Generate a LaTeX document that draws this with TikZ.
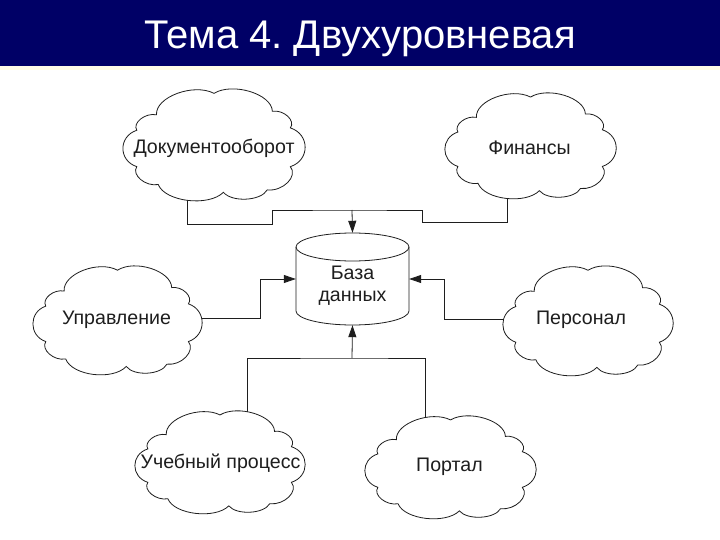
\documentclass[tikz,border=0pt]{standalone}
\usepackage{fontspec}
\setmainfont{Liberation Sans}
\usetikzlibrary{arrows.meta,calc}
\pgfdeclarelayer{bg}
\pgfsetlayers{bg,main}
\definecolor{navy}{RGB}{0,0,102}
\definecolor{cream}{RGB}{255,252,232}
\definecolor{ink}{RGB}{30,30,30}
\tikzset{
  cloudline/.style={draw=ink, fill=white, line width=0.8pt},
  shapeline/.style={draw=ink, fill=white, line width=0.8pt},
  conn/.style={draw=ink, line width=0.8pt},
  arr/.style={-{Triangle[length=12pt,width=8pt]}},
  lbl/.style={font=\fontsize{19.6}{22}\selectfont, text=ink, inner sep=0pt},
  bmp/.style={bend right=65},
}
\newcommand\drawcloud[4]{%
  \begin{scope}[shift={(#1,#2)},xscale=#3,yscale=-#4]
    \path[cloudline] (0,0.85) to[bmp] (0.68,0.55) to[bmp] (0.89,0.27)
      to[bmp] (0.89,-0.38) to[bmp] (0.62,-0.77) to[bmp] (0.11,-0.81)
      to[bmp] (-0.65,-0.68) to[bmp] (-0.90,-0.38) to[bmp] (-0.90,0.23)
      to[bmp] (-0.67,0.49) to[bmp] (0,0.85) -- cycle;
  \end{scope}}
\begin{document}
\frenchspacing
\begin{tikzpicture}[x=1pt,y=-1pt]
\useasboundingbox (0,0) rectangle (720,540);
\begin{pgfonlayer}{bg}
\fill[white] (0,0) rectangle (720,540);
\end{pgfonlayer}
\fill[navy] (0,0) rectangle (720,66);
\fill[cream] (0,66) rectangle (720,70);
\node[anchor=base, text=white, font=\fontsize{40}{46}\selectfont, inner sep=0pt] (title) at (360,49) {Тема 4. Двухуровневая};

% clouds
\drawcloud{214}{144}{85.8}{59.6}
\drawcloud{530.5}{145}{80.7}{56.4}
\drawcloud{117.5}{319.5}{79.7}{58}
\drawcloud{588}{320}{80.2}{58.5}
\drawcloud{220}{461.5}{80.2}{54.8}
\drawcloud{450.5}{466.5}{80.7}{54.8}

\node[lbl] (doc) at (214,148) {Документооборот};
\node[lbl] (fin) at (529.5,147.5) {Финансы};
\node[lbl] (upr) at (116.5,320) {Управление};
\node[lbl] (pers) at (581,320) {Персонал};
\node[lbl] (uch) at (220.5,463) {Учебный процесс};
\node[lbl] (port) at (449.5,467) {Портал};

% database cylinder
\node[minimum width=113pt, minimum height=92pt, inner sep=0pt] (db) at (352.5,279) {};
\path[shapeline] (296,247) -- (296,311) arc[start angle=180,end angle=360,x radius=56.5pt,y radius=14pt]
  -- (409,247) arc[start angle=0,end angle=180,x radius=56.5pt,y radius=14pt] -- cycle;
\draw[shapeline, fill=none] (296,247) arc[start angle=180,end angle=360,x radius=56.5pt,y radius=14pt];
\node[lbl, align=center] (dbt) at (352.5,286) {База\\данных};

% connectors
\coordinate (tl) at (272,224);
\coordinate (tj) at (352,210);
\coordinate (tr) at (422,222);
\coordinate (bl) at (260,279);
\coordinate (br) at (444,279);
\coordinate (bj) at (352,358);
\begin{pgfonlayer}{bg}
\draw[conn] ([xshift=-27pt]doc.south) |- (tl) |- (tj) -| (tr) -| ([xshift=-22.5pt]fin.south);
\draw[conn] ([xshift=26.5pt]uch.north) |- (bj) -| ([xshift=-24.5pt]port.north);
\draw[conn] ([yshift=2pt]upr.east) -| (bl);
\draw[conn] ([yshift=1pt]pers.west) -| (br);
\end{pgfonlayer}
\draw[conn, arr] (tj) -- (db.north);
\draw[conn, arr] (bj) -- (db.south);
\draw[conn, arr] (bl) -- (db.west);
\draw[conn, arr] (br) -- (db.east);
\end{tikzpicture}
\end{document}
